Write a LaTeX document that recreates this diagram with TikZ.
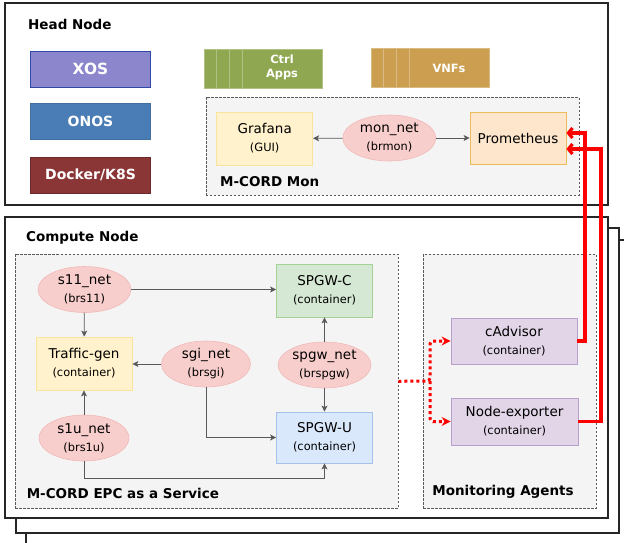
\documentclass[tikz,border=0pt]{standalone}
\usepackage{fontspec}
\setmainfont{DejaVu Sans}
\usetikzlibrary{arrows.meta,calc,shapes.geometric}
\definecolor{ink}{HTML}{262626}
\definecolor{wire}{HTML}{595959}
\definecolor{alarm}{HTML}{FF0000}
\definecolor{xosfill}{HTML}{8C86CC}
\definecolor{xosline}{HTML}{3048A8}
\definecolor{onosfill}{HTML}{4A7DB5}
\definecolor{onosline}{HTML}{41719C}
\definecolor{dockfill}{HTML}{8B3636}
\definecolor{dockline}{HTML}{6E2A2A}
\definecolor{ctrlfill}{HTML}{8FA750}
\definecolor{vnffill}{HTML}{CC9E50}
\definecolor{groupfill}{HTML}{F4F4F4}
\definecolor{netfill}{HTML}{F8CECC}
\definecolor{netline}{HTML}{F0B8B6}
\definecolor{yelfill}{HTML}{FFF2CC}
\definecolor{yelline}{HTML}{F9E49E}
\definecolor{promfill}{HTML}{FDE6CC}
\definecolor{promline}{HTML}{EDBA5C}
\definecolor{grnfill}{HTML}{D5E8D4}
\definecolor{grnline}{HTML}{A3D196}
\definecolor{blufill}{HTML}{DAE8FC}
\definecolor{bluline}{HTML}{A6C1E8}
\definecolor{purfill}{HTML}{E1D5E7}
\definecolor{purline}{HTML}{B99FCB}
\newcommand{\subtag}[1]{{\fontsize{11.4}{18}\selectfont #1}}

\begin{document}
\begin{tikzpicture}[x=1pt,y=-1pt,font=\fontsize{13.5}{18}\selectfont,
  every node/.style={inner sep=0pt},
  frame/.style={draw=ink,line width=1.5pt,fill=white},
  group/.style={draw=wire,dash pattern=on 2.5pt off 1.5pt,line width=0.6pt,fill=groupfill,anchor=north west},
  block/.style={line width=1pt,text=white,font=\bfseries\fontsize{14}{17}\selectfont,minimum width=120,minimum height=36},
  layer/.style={line width=1pt,minimum width=118,minimum height=39},
  layertext/.style={text=white,align=center,font=\bfseries\fontsize{11.4}{14}\selectfont},
  ctn/.style={draw,line width=0.8pt,minimum width=96,minimum height=53,align=center},
  net/.style={ellipse,fill=netfill,draw=netline,line width=0.6pt,minimum width=93,minimum height=46,align=center},
  title/.style={font=\bfseries\fontsize{13.5}{16}\selectfont,anchor=west},
  link/.style={draw=wire,line width=0.8pt,-{Stealth[length=6pt,width=6pt,inset=1.5pt]}},
  probe/.style={draw=alarm,line width=3pt,dash pattern=on 3pt off 3pt,rounded corners=3pt,-{Stealth[length=9pt,width=9pt]}},
  scrape/.style={draw=alarm,line width=3.2pt,-{Straight Barb[length=4pt,width=10pt]}}]
 \useasboundingbox (0,0) rectangle (624,542);
 \draw[frame] (26,240) rectangle (640,560);
 \draw[frame] (16,228) rectangle (619,533);
 \draw[frame] (5,217) rectangle (608,518);
 \draw[frame] (5,3) rectangle (608,205);

 \node[title] (headt) at (28,24) {Head Node};
 \node[block,fill=xosfill,draw=xosline,font=\bfseries\fontsize{15.4}{18}\selectfont] (xos) at (90.5,69) {XOS};
 \node[block,fill=onosfill,draw=onosline] (onos) at (90.5,121.5) {ONOS};
 \node[block,fill=dockfill,draw=dockline] (dock) at (90.5,175) {Docker/K8S};

 \node[layer,fill=ctrlfill,draw=ctrlfill!70!white] (ctrl) at (263.7,68.5) {};
 \node[layer,fill=vnffill,draw=vnffill!70!white] (vnf) at (430.8,68) {};
 \foreach \d in {12,25,38}{
   \draw[ctrlfill!70!white,line width=1pt] ($(ctrl.north west)+(\d,0)$) -- ($(ctrl.south west)+(\d,0)$);
   \draw[vnffill!70!white,line width=1pt] ($(vnf.north west)+(\d,0)$) -- ($(vnf.south west)+(\d,0)$);
 }
 \node[layertext] (ctrlt) at (282,67) {Ctrl\\Apps};
 \node[layertext] (vnft) at (449,68) {VNFs};

 \node[group,minimum width=373,minimum height=98] (mon) at (205.5,97) {};
 \node[ctn,fill=yelfill,draw=yelline] (graf) at (264.7,138.5) {Grafana\\\subtag{(GUI)}};
 \node[net] (monnet) at (389.3,138) {mon\_net\\\subtag{(brmon)}};
 \node[ctn,fill=promfill,draw=promline,minimum height=52] (prom) at (518,138) {Prometheus};
 \node[title] (mont) at (220,182) {M-CORD Mon};
 \draw[link] (monnet) -- (graf);
 \draw[link] (monnet) -- (prom);

 \node[title] (compt) at (26,238) {Compute Node};
 \node[group,minimum width=383,minimum height=254] (epc) at (14.7,254) {};
 \node[group,minimum width=173,minimum height=254] (agents) at (423,254) {};

 \node[net] (s11) at (84.5,289.5) {s11\_net\\\subtag{(brs11)}};
 \node[ctn,fill=grnfill,draw=grnline] (spgwc) at (324.5,290.5) {SPGW-C\\\subtag{(container)}};
 \node[ctn,fill=yelfill,draw=yelline] (tgen) at (84,363.5) {Traffic-gen\\\subtag{(container)}};
 \node[net,minimum width=89] (sgi) at (206,364) {sgi\_net\\\subtag{(brsgi)}};
 \node[net] (spgwnet) at (324.5,365) {spgw\_net\\\subtag{(brspgw)}};
 \node[net,minimum width=90] (s1u) at (84,438) {s1u\_net\\\subtag{(brs1u)}};
 \node[ctn,fill=blufill,draw=bluline,minimum height=51] (spgwu) at (324.5,437.5) {SPGW-U\\\subtag{(container)}};
 \node[title] (epct) at (26.6,493) {M-CORD EPC as a Service};

 \draw[link] (s11.east) -- (s11.east -| spgwc.west);
 \draw[link] (s11) -- (tgen);
 \draw[link] (sgi.west) -- (sgi.west -| tgen.east);
 \draw[link] (sgi.south) |- (spgwu.west);
 \draw[link] (spgwnet) -- (spgwc);
 \draw[link] (spgwnet) -- (spgwu);
 \draw[link] (s1u) -- (tgen);
 \draw[link] (s1u.south) -- ++(0,17) -| (spgwu.south);

 \node[ctn,fill=purfill,draw=purline,minimum width=126,minimum height=46] (cadv) at (514,341) {cAdvisor\\\subtag{(container)}};
 \node[ctn,fill=purfill,draw=purline,minimum width=127,minimum height=47] (nexp) at (514.5,421.5) {Node-exporter\\\subtag{(container)}};
 \node[title,anchor=center] (agentt) at (503,492) {Monitoring Agents};

 \coordinate (split) at (430,381);
 \draw[probe] (epc.east) -- (split) |- (cadv.west);
 \draw[probe] (split) |- (nexp.west);

 \coordinate (up1) at (585,133);
 \coordinate (up2) at (601,149);
 \draw[scrape] (cadv.east) -| (up1) -- (up1 -| prom.east);
 \draw[scrape] (nexp.east) -| (up2) -- (up2 -| prom.east);
\end{tikzpicture}
\end{document}
